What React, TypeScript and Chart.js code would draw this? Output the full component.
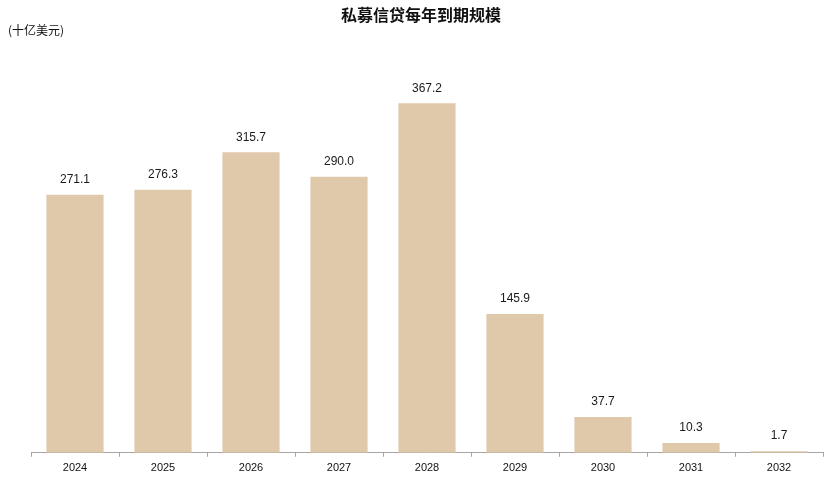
import React, { useEffect, useRef } from "react";
import { Chart, registerables } from "chart.js";

Chart.register(...registerables);

const TITLE = "私募信贷每年到期规模";
const UNIT_LABEL = "(十亿美元)";
const categories = ["2024", "2025", "2026", "2027", "2028", "2029", "2030", "2031", "2032"];
const maturities = [271.1, 276.3, 315.7, 290.0, 367.2, 145.9, 37.7, 10.3, 1.7];

const BAR_COLOR = "#E0C9AA";
const AXIS_COLOR = "#A6A6A6";
const FONT = "Arial, 'Liberation Sans', sans-serif";
const CJK = "'Noto Sans CJK SC', sans-serif";

const textPlugin = {
  id: "textPlugin",
  afterDraw(chart: any) {
    const ctx = chart.ctx;
    ctx.save();
    // title
    ctx.fillStyle = "#111";
    ctx.font = `bold 16px ${CJK}`;
    ctx.textAlign = "center";
    ctx.textBaseline = "middle";
    ctx.fillText(TITLE, 421, 15);
    // unit
    ctx.font = `12px ${CJK}`;
    ctx.textAlign = "left";
    ctx.fillText(UNIT_LABEL, 8, 30);
    // value labels
    const meta = chart.getDatasetMeta(0);
    ctx.font = `12px ${FONT}`;
    ctx.textAlign = "center";
    ctx.textBaseline = "bottom";
    ctx.fillStyle = "#1a1a1a";
    meta.data.forEach((bar: any, i: number) => {
      ctx.fillText(maturities[i].toFixed(1), bar.x, bar.y - 9);
    });
    ctx.restore();
  },
};

export default function App() {
  const ref = useRef<HTMLCanvasElement>(null);
  useEffect(() => {
    if (!ref.current) return;
    const chart = new Chart(ref.current, {
      type: "bar",
      data: {
        labels: categories,
        datasets: [
          {
            data: maturities,
            backgroundColor: BAR_COLOR,
            borderWidth: 0,
            categoryPercentage: 0.65,
            barPercentage: 1,
          },
        ],
      },
      options: {
        animation: false,
        responsive: false,
        maintainAspectRatio: false,
        layout: { padding: { top: 72, left: 31, right: 3, bottom: 18 } },
        plugins: {
          legend: { display: false },
          title: { display: false },
          tooltip: { enabled: false },
        },
        scales: {
          x: {
            grid: {
              display: true,
              drawOnChartArea: false,
              drawTicks: true,
              tickLength: 4,
              tickColor: AXIS_COLOR,
              offset: true,
            },
            border: { display: true, color: AXIS_COLOR, width: 1 },
            ticks: {
              color: "#111",
              font: { family: FONT, size: 11 },
              padding: 5,
              maxRotation: 0,
            },
          },
          y: {
            display: false,
            min: 0,
            max: 400,
          },
        },
      },
      plugins: [textPlugin],
    });
    return () => chart.destroy();
  }, []);
  return (
    <div style={{ position: "fixed", left: 0, top: 0, width: 826, height: 498, background: "#fff" }}>
      <canvas ref={ref} width={826} height={498} style={{ width: 826, height: 498 }} />
    </div>
  );
}
